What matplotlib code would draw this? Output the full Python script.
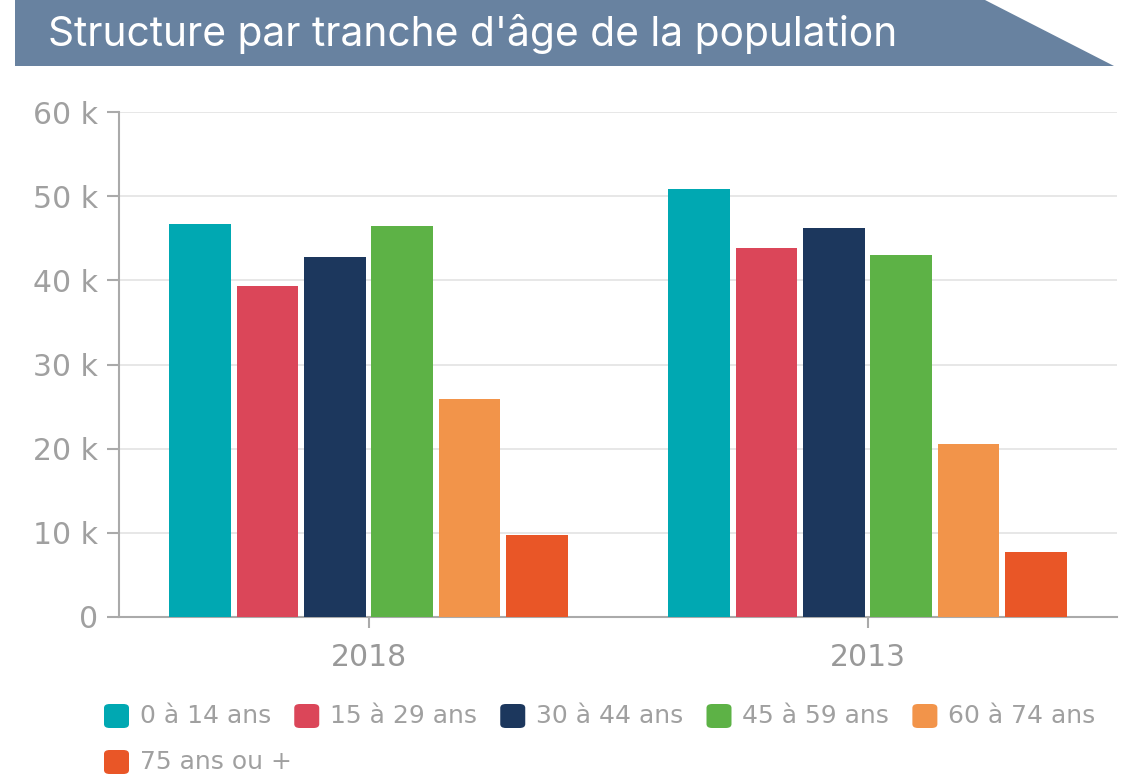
import matplotlib
matplotlib.use("Agg")
import matplotlib.pyplot as plt
from matplotlib.patches import Polygon, FancyBboxPatch
from matplotlib.ticker import FuncFormatter
import numpy as np

# données
years = ["2018", "2013"]
age_groups = ["0 à 14 ans", "15 à 29 ans", "30 à 44 ans", "45 à 59 ans", "60 à 74 ans", "75 ans ou +"]
pop_2018 = [46700, 39300, 42800, 46500, 25900, 9700]
pop_2013 = [50800, 43800, 46200, 43000, 20600, 7700]
colors = ["#00A8B2", "#DB4659", "#1C375D", "#5DB246", "#F2944A", "#E95627"]
title = "Structure par tranche d'âge de la population"

W, H = 1130, 775
fig = plt.figure(figsize=(W / 100, H / 100), dpi=100)

# bandeau du titre
banner = Polygon([(15 / W, 1), (985 / W, 1), (1114 / W, 1 - 66 / H), (15 / W, 1 - 66 / H)],
                 closed=True, transform=fig.transFigure, facecolor="#6882A0", edgecolor="none")
fig.patches.append(banner)
fig.text(48 / W, 1 - 34 / H, title, color="white", fontsize=29.3, family="Inter",
         va="center", ha="left")

ax = fig.add_axes([119 / W, 1 - 617 / H, (1117 - 119) / W, (617 - 112) / H])

x = np.arange(len(years))
n = len(age_groups)
pitch = 0.135
width = 0.124
values = np.array([pop_2018, pop_2013]).T
for i, (label, col) in enumerate(zip(age_groups, colors)):
    ax.bar(x + (i - (n - 1) / 2) * pitch, values[i], width=width, color=col, label=label, zorder=3)

ax.set_xlim(-0.5, 1.5)
ax.set_ylim(0, 60000)
ax.set_yticks(np.arange(0, 60001, 10000))
ax.yaxis.set_major_formatter(FuncFormatter(lambda v, p: "0" if v == 0 else f"{int(v / 1000)} k"))
ax.set_xticks(x)
ax.set_xticklabels(years)
ax.grid(axis="y", color="#E3E3E3", linewidth=1.2, zorder=0)
for s in ["top", "right"]:
    ax.spines[s].set_visible(False)
for s in ["left", "bottom"]:
    ax.spines[s].set_color("#AAAAAA")
    ax.spines[s].set_linewidth(1.5)
ax.tick_params(axis="y", colors="#AAAAAA", labelcolor="#A0A0A0", labelsize=21.5, length=9, width=1.5, pad=6)
ax.tick_params(axis="x", colors="#AAAAAA", labelcolor="#999999", labelsize=21.5, length=8, width=1.5, pad=11)

# légende manuelle
fig.canvas.draw()
renderer = fig.canvas.get_renderer()
xpos, ypos = 104, 716
for label, col in zip(age_groups, colors):
    t = fig.text(0, 0, label, color="#A0A0A0", fontsize=18, va="center", ha="left")
    tw = t.get_window_extent(renderer).width
    if xpos + 36 + tw > W - 10:
        xpos, ypos = 104, 762
    t.set_position(((xpos + 36) / W, 1 - ypos / H))
    box = FancyBboxPatch((xpos / W, 1 - (ypos + 12) / H), 25 / W, 24 / H,
                         boxstyle="round,pad=0,rounding_size=0.005",
                         transform=fig.transFigure, facecolor=col, edgecolor="none")
    fig.patches.append(box)
    xpos = xpos + 36 + tw + 23

fig.savefig("out.png", dpi=100, facecolor="white")
